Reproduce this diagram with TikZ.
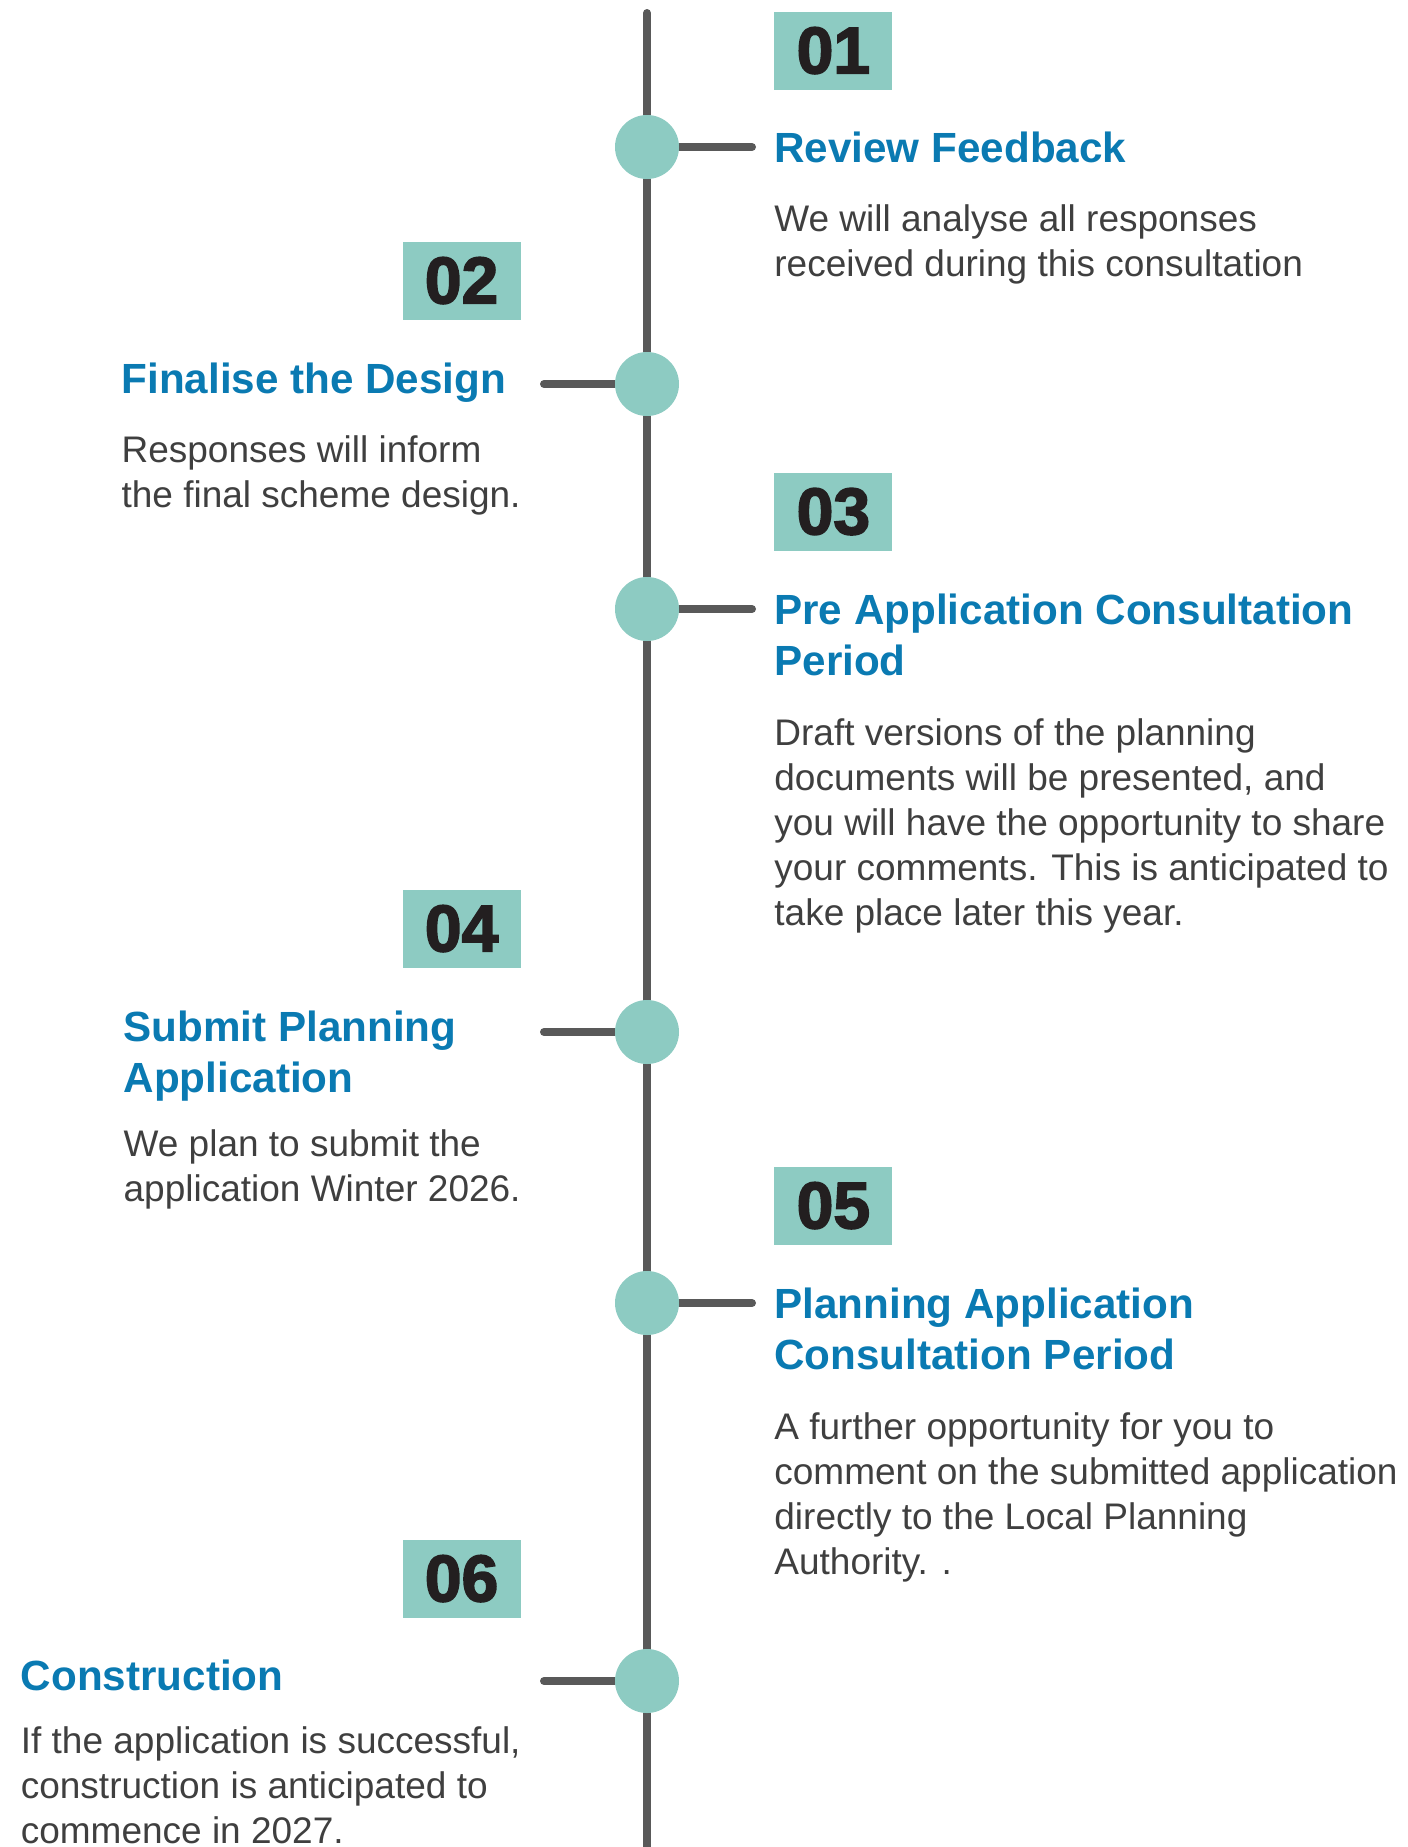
\documentclass[tikz,border=0pt]{standalone}
\usepackage{fontspec}
\setmainfont{Liberation Sans}
\newfontfamily\numfont{Liberation Sans}[BoldFeatures={FakeBold=2.5}]

\definecolor{dotteal}{HTML}{8DCBC2}
\definecolor{lineGrey}{HTML}{595959}
\definecolor{titleBlue}{HTML}{0A7AB2}
\definecolor{bodyGrey}{HTML}{3F3F3F}
\definecolor{numBlack}{HTML}{231F20}

\tikzset{
  stepdot/.style={circle, fill=dotteal, minimum size=32pt, inner sep=0pt},
  stem/.style={line width=4pt, draw=lineGrey, line cap=round},
  stepnum/.style={fill=dotteal, minimum width=59pt, minimum height=39pt, inner sep=0pt,
    text=numBlack, font=\numfont\bfseries\fontsize{33}{33}\selectfont},
  steptitle/.style={inner sep=0pt, align=left, text=titleBlue,
    font=\bfseries\fontsize{21.1}{25.5}\selectfont},
  stepbody/.style={inner sep=0pt, align=left, text=bodyGrey,
    font=\fontsize{18.5}{22.5}\selectfont}
}

\begin{document}
\begin{tikzpicture}[x=0.5pt, y=-0.5pt]

  \newcommand\Lx{647}
  \newcommand\Rx{774}
  \newcommand\Ex{521}

  \useasboundingbox (0,0) rectangle (1408,1847);

  %% timeline
  \coordinate (top) at (\Lx, 13);
  \coordinate (bot) at (\Lx, 1870);
  \draw[stem] (top) -- (bot);

  \coordinate (p1) at (\Lx, 147);
  \coordinate (p2) at (\Lx, 384);
  \coordinate (p3) at (\Lx, 609);
  \coordinate (p4) at (\Lx, 1032);
  \coordinate (p5) at (\Lx, 1303);
  \coordinate (p6) at (\Lx, 1681);

  \coordinate (e1) at (752, 147);
  \coordinate (e2) at (544, 384);
  \coordinate (e3) at (752, 609);
  \coordinate (e4) at (544, 1032);
  \coordinate (e5) at (752, 1303);
  \coordinate (e6) at (544, 1681);

  \draw[stem] (p1) -- (e1);
  \draw[stem] (p2) -- (e2);
  \draw[stem] (p3) -- (e3);
  \draw[stem] (p4) -- (e4);
  \draw[stem] (p5) -- (e5);
  \draw[stem] (p6) -- (e6);

  \node[stepdot] (c1) at (p1) {};
  \node[stepdot] (c2) at (p2) {};
  \node[stepdot] (c3) at (p3) {};
  \node[stepdot] (c4) at (p4) {};
  \node[stepdot] (c5) at (p5) {};
  \node[stepdot] (c6) at (p6) {};

  %% number boxes
  \node[stepnum, anchor=south west] (n1) at (\Rx, 90) {01};
  \node[stepnum, anchor=south east] (n2) at (\Ex, 320) {02};
  \node[stepnum, anchor=south west] (n3) at (\Rx, 551) {03};
  \node[stepnum, anchor=south east] (n4) at (\Ex, 968) {04};
  \node[stepnum, anchor=south west] (n5) at (\Rx, 1245) {05};
  \node[stepnum, anchor=south east] (n6) at (\Ex, 1618) {06};

  %% right side (base = last line)
  \node[steptitle, anchor=base west] (h1) at (\Rx, 162) {Review Feedback};
  \node[stepbody, anchor=base west] (b1) at (\Rx, 276)
    {We will analyse all responses\\received during this consultation};

  \node[steptitle, anchor=base west] (h3) at (\Rx, 675) {Pre Application Consultation\\Period};
  \node[stepbody, anchor=base west] (b3) at (\Rx, 925)
    {Draft versions of the planning\\documents will be presented, and\\you will have the opportunity to share\\your comments. This is anticipated to\\take place later this year.};

  \node[steptitle, anchor=base west] (h5) at (\Rx, 1369) {Planning Application\\Consultation Period};
  \node[stepbody, anchor=base west] (b5) at (\Rx, 1574)
    {A further opportunity for you to\\comment on the submitted application\\directly to the Local Planning\\Authority. .};

  %% left side
  \node[stepbody, anchor=base east] (b2) at (\Ex, 507)
    {Responses will inform\\the final scheme design.};
  \node[steptitle, anchor=base west] (h2) at (b2.west |- 0,393) {Finalise the Design};

  \node[stepbody, anchor=base east] (b4) at (\Ex, 1201)
    {We plan to submit the\\application Winter 2026.};
  \node[steptitle, anchor=base west] (h4) at (b4.west |- 0,1092) {Submit Planning\\Application};

  \node[stepbody, anchor=base east] (b6) at (\Ex, 1843)
    {If the application is successful,\\construction is anticipated to\\commence in 2027.};
  \node[steptitle, anchor=base west] (h6) at (b6.west |- 0,1690) {Construction};

\end{tikzpicture}
\end{document}
